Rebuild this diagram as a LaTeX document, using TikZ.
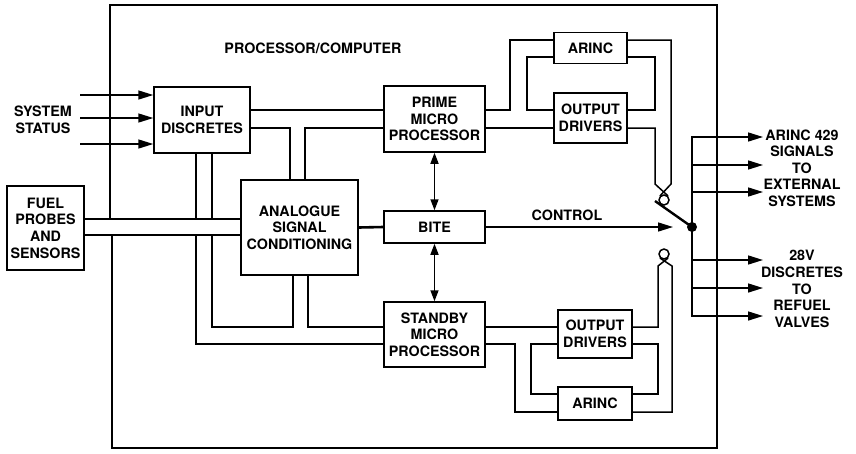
\documentclass[tikz,border=0pt]{standalone}
\usepackage{fontspec}
\setmainfont{TeX Gyre Heros}
\usetikzlibrary{arrows.meta}

\begin{document}
\begin{tikzpicture}[x=1pt, y=-1pt,
  font=\bfseries\fontsize{14.3}{16.6}\selectfont,
  wire/.style={line width=1.5pt, line join=miter},
  frame/.style={line width=2.2pt},
  blk/.style={draw, line width=1.5pt, align=center, inner sep=1pt},
  lbl/.style={align=center, inner sep=0pt},
  arr/.style={wire, -{Triangle[length=15pt, width=9pt]}},
  dbl/.style={wire, {Triangle[length=11pt, width=8pt]}-{Triangle[length=11pt, width=8pt]}},
  contact/.style={draw, circle, line width=1.5pt, minimum size=10pt, inner sep=0pt}]
\useasboundingbox (0,0) rectangle (856,453);

% outer frame, opened where the sensor bus enters
\draw[frame] (110,219) -- (110,5) -- (717,5) -- (717,448) -- (112,448) -- (112,235);
\node (title) at (313,48) {PROCESSOR/COMPUTER};

% blocks
\node[blk, minimum width=96pt, minimum height=66pt]  (idisc)  at (202,120)     {INPUT\\DISCRETES};
\node[blk, minimum width=77pt, minimum height=84pt]  (fuel)   at (45.5,228)    {FUEL\\PROBES\\AND\\SENSORS};
\node[blk, minimum width=117pt, minimum height=95pt] (analog) at (299.5,227.5) {ANALOGUE\\SIGNAL\\CONDITIONING};
\node[blk, minimum width=101pt, minimum height=66pt] (prime)  at (434.5,119)   {PRIME\\MICRO\\PROCESSOR};
\node[blk, minimum width=101pt, minimum height=32pt] (bite)   at (434.5,227)   {BITE};
\node[blk, minimum width=101pt, minimum height=65pt] (stby)   at (434.5,334.5) {STANDBY\\MICRO\\PROCESSOR};
\node[blk, minimum width=73pt, minimum height=31pt]  (arincA) at (590.5,48)    {ARINC};
\node[blk, minimum width=73pt, minimum height=50pt]  (drvA)   at (590.5,118)   {OUTPUT\\DRIVERS};
\node[blk, minimum width=74pt, minimum height=48pt]  (drvB)   at (595,334)     {OUTPUT\\DRIVERS};
\node[blk, minimum width=74pt, minimum height=33pt]  (arincB) at (595,403.5)   {ARINC};

% switch parts
\node[contact] (cTop) at (664,200) {};
\node[contact] (cBot) at (664,254) {};
\node[circle, fill, inner sep=0pt, minimum size=10pt] (pivot) at (692,227) {};
\coordinate (ctlEnd) at (673,227);

% outside labels
\node[lbl] (sys) at (43,120)  {SYSTEM\\STATUS};
\node[lbl] (ext) at (802,168) {ARINC 429\\SIGNALS\\TO\\EXTERNAL\\SYSTEMS};
\node[lbl] (rfl) at (802,289) {28V\\DISCRETES\\TO\\REFUEL\\VALVES};
\node (ctl) at (567,215) {CONTROL};

% system status inputs
\foreach \y in {95,118,144}
  \draw[arr] (80,\y) -- (idisc.west |- 0,\y);

% sensor bus and its branches
\draw[wire] (fuel.east |- 0,219) -- (analog.west |- 0,219);
\draw[wire] (fuel.east |- 0,235) -- (analog.west |- 0,235);
\draw[wire] (idisc.south -| 196,0) -- (196,219);
\draw[wire] (idisc.south -| 212,0) -- (212,219);
\draw[wire] (196,235) -- (196,344) -- (stby.west |- 0,344);
\draw[wire] (212,235) -- (212,327) -- (293,327) -- (analog.south -| 293,0);
\draw[wire] (analog.south -| 308,0) -- (308,327) -- (stby.west |- 0,327);

% input discretes to prime / analogue
\draw[wire] (idisc.east |- 0,110) -- (prime.west |- 0,110);
\draw[wire] (idisc.east |- 0,128) -- (290,128) -- (analog.north -| 290,0);
\draw[wire] (analog.north -| 305,0) -- (305,128) -- (prime.west |- 0,128);

% bite links
\draw[wire, line width=2.6pt] (analog.east) -- (bite.west);
\draw[dbl] (prime.south) -- (bite.north);
\draw[dbl] (bite.south) -- (stby.north);
\draw[arr] (bite.east) -- (ctlEnd);

% prime output stage
\draw[wire] (prime.east |- 0,110) -- (510,110) -- (510,40) -- (arincA.west |- 0,40);
\draw[wire] (arincA.west |- 0,57) -- (527,57) -- (527,110) -- (drvA.west |- 0,110);
\draw[wire] (prime.east |- 0,128) -- (drvA.west |- 0,128);
\draw[wire] (arincA.east |- 0,40) -- (671,40) -- (671,184) -- (cTop.north west);
\draw[wire] (arincA.east |- 0,57) -- (655,57) -- (655,110) -- (drvA.east |- 0,110);
\draw[wire] (drvA.east |- 0,128) -- (655,128) -- (655,184) -- (cTop.north east);

% standby output stage
\draw[wire] (stby.east |- 0,327) -- (drvB.west |- 0,327);
\draw[wire] (stby.east |- 0,344) -- (515,344) -- (515,412) -- (arincB.west |- 0,412);
\draw[wire] (drvB.west |- 0,344) -- (531,344) -- (531,394) -- (arincB.west |- 0,394);
\draw[wire] (drvB.east |- 0,327) -- (658,327) -- (658,266) -- (cBot.south east);
\draw[wire] (drvB.east |- 0,344) -- (658,344) -- (658,394) -- (arincB.east |- 0,394);
\draw[wire] (arincB.east |- 0,412) -- (672,412) -- (672,266) -- (cBot.south west);

% changeover switch and outputs
\draw[wire, line width=2.4pt] (pivot.center) -- (655,201);
\draw[arr] (pivot.center) -- (692,137) -- (763,137);
\draw[arr] (pivot.center) -- (692,316) -- (763,316);
\foreach \y in {165,192,260,288}
  \draw[arr] (692,\y) -- (763,\y);
\end{tikzpicture}
\end{document}
